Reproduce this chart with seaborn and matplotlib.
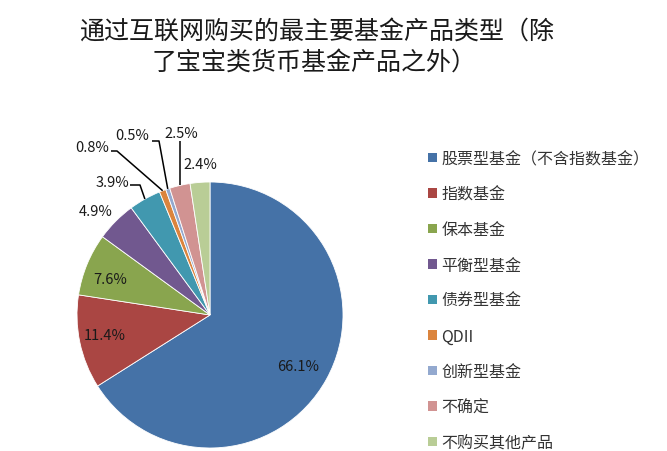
import numpy as np
import matplotlib
matplotlib.use("Agg")
import matplotlib.pyplot as plt
import seaborn as sns
from matplotlib.patches import Patch

# =====================================================
# Data
# =====================================================
categories = ["股票型基金（不含指数基金）", "指数基金", "保本基金", "平衡型基金",
              "债券型基金", "QDII", "创新型基金", "不确定", "不购买其他产品"]
shares = [66.1, 11.4, 7.6, 4.9, 3.9, 0.8, 0.5, 2.5, 2.4]
pct_labels = [f"{v:.1f}%" for v in shares]
title_lines = ["通过互联网购买的最主要基金产品类型（除", "了宝宝类货币基金产品之外）"]

# Excel 2007 style colours
colors = ["#4572A7", "#AA4643", "#89A54E", "#71588F", "#4198AF",
          "#DB843D", "#93A9CF", "#D19392", "#B9CD96"]

# layout (image pixels, y measured from top)
W, H = 667, 452
label_pos = [(298, 367), (105, 336), (110, 280), (96, 212), (112, 183),
             (92, 148), (132, 136), (181, 134), (200, 165)]
# leader lines: (start, elbow) for the small slices, anchor is on the pie edge
leaders = {4: [(130, 186), (140, 186)],
           5: [(111, 152), (117, 152)],
           6: [(152, 142), (159, 142)],
           7: [(180, 142)]}

sns.set_theme(style="white")
plt.rcParams["font.family"] = ["Noto Sans CJK SC", "DejaVu Sans"]

fig = plt.figure(figsize=(W / 100, H / 100), dpi=100)
ax = fig.add_axes([0, 0, 1, 1])

cx, cy, R = 210, H - 316, 133
wedges, _ = ax.pie(shares, colors=colors, startangle=90, counterclock=False,
                   center=(cx, cy), radius=R, frame=True,
                   wedgeprops=dict(edgecolor="white", linewidth=0.6))
ax.set_xlim(0, W)
ax.set_ylim(0, H)
ax.set_aspect("equal")
ax.axis("off")

# percentage labels
for i, (x, y) in enumerate(label_pos):
    ax.text(x, H - y, pct_labels[i], ha="center", va="center",
            fontsize=10.5, color="#1a1a1a")

# leader lines from label to wedge edge
for i, pts in leaders.items():
    w = wedges[i]
    mid = np.deg2rad((w.theta1 + w.theta2) / 2)
    ax_pt = (cx + R * np.cos(mid), cy + R * np.sin(mid))
    xs = [p[0] for p in pts] + [ax_pt[0]]
    ys = [H - p[1] for p in pts] + [ax_pt[1]]
    if len(pts) == 1:
        xs[-1] = xs[0]
    ax.plot(xs, ys, color="black", lw=1.1, solid_capstyle="butt")

# title
fig.text(317 / W, 1 - 32 / H, title_lines[0], ha="center", va="center",
         fontsize=18, color="#1a1a1a", fontweight="medium")
fig.text(314 / W, 1 - 63 / H, title_lines[1], ha="center", va="center",
         fontsize=18, color="#1a1a1a", fontweight="medium")

# legend
handles = [Patch(facecolor=c, edgecolor="none") for c in colors]
fig.legend(handles, categories, loc="upper left",
           bbox_to_anchor=(428 / W, 1 - 151 / H), frameon=False,
           fontsize=11.5, handlelength=0.55, handleheight=0.55,
           handletextpad=0.3, labelspacing=1.16, borderaxespad=0, borderpad=0,
           labelcolor="#333333")

fig.savefig("out.png", dpi=100, facecolor="white")
